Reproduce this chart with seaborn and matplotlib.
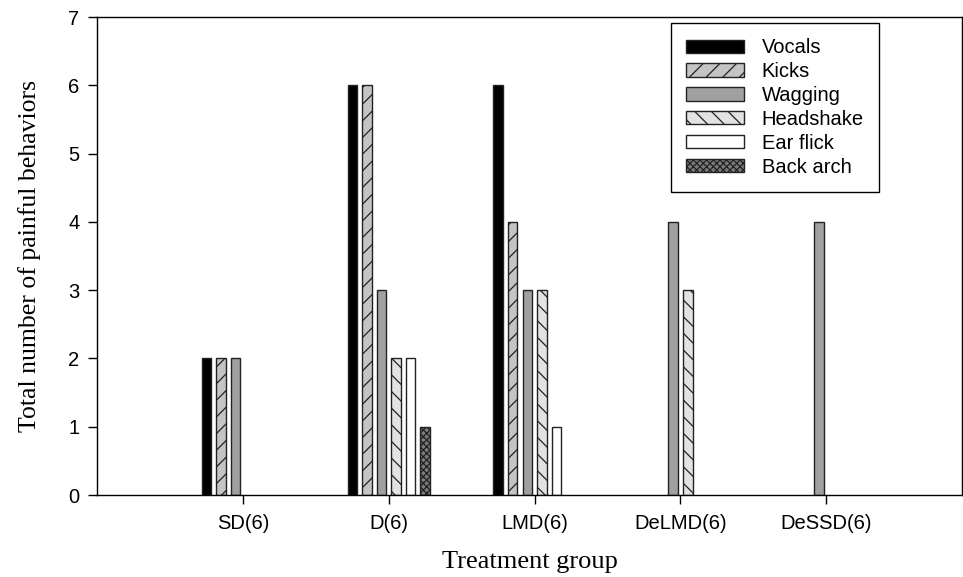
import pandas as pd
import matplotlib.pyplot as plt
import seaborn as sns
from matplotlib.patches import Patch

groups = ["SD(6)", "D(6)", "LMD(6)", "DeLMD(6)", "DeSSD(6)"]
behaviors = ["Vocals", "Kicks", "Wagging", "Headshake", "Ear flick", "Back arch"]

# counts per group, one list per behavior
vocals = [2, 6, 6, 0, 0]
kicks = [2, 6, 4, 0, 0]
wagging = [2, 3, 3, 4, 4]
headshake = [0, 2, 3, 3, 0]
ear_flick = [0, 2, 1, 0, 0]
back_arch = [0, 1, 0, 0, 0]

colors = ["black", "#c4c4c4", "#a0a0a0", "#e2e2e2", "white", "#7a7a7a"]
hatches = [None, "//", None, "\\\\", None, "xxxxx"]

series = [vocals, kicks, wagging, headshake, ear_flick, back_arch]
rows = []
for name, vals in zip(behaviors, series):
    for g, v in zip(groups, vals):
        rows.append({"group": g, "behavior": name, "count": v})
df = pd.DataFrame(rows)

sns.set_style("ticks")
plt.rcParams["font.family"] = ["Liberation Sans", "DejaVu Sans"]
plt.rcParams["text.color"] = "black"
plt.rcParams["axes.labelcolor"] = "black"
plt.rcParams["hatch.linewidth"] = 0.9
plt.rcParams["hatch.color"] = "#222222"

fig, ax = plt.subplots(figsize=(9.63, 5.77), dpi=100)
fig.subplots_adjust(left=0.1007, right=0.999, top=0.9705, bottom=0.142)

sns.barplot(data=df, x="group", y="count", hue="behavior", order=groups,
            hue_order=behaviors, palette=dict(zip(behaviors, colors)),
            width=0.6, gap=0.35, edgecolor="#222222", linewidth=1.0,
            legend=False, ax=ax)

# hatch the patterned series, hide the empty (zero) bars
for cont, h in zip(ax.containers, hatches):
    for bar in cont:
        if h:
            bar.set_hatch(h)
        if bar.get_height() == 0:
            bar.set_visible(False)

ax.set_xlim(-1, 4.93)
ax.set_ylim(0, 7)
ax.set_yticks(range(0, 8))
for s in ax.spines.values():
    s.set_visible(True)
    s.set_linewidth(1.0)
    s.set_color("black")
ax.tick_params(axis="both", direction="out", length=6.5, width=1, labelsize=14.5,
               colors="black", labelcolor="black")
ax.tick_params(axis="y", pad=6)
ax.tick_params(axis="x", pad=7)

ax.set_xlabel("Treatment group", family=["Liberation Serif"], fontsize=19, labelpad=13, color="black")
ax.set_ylabel("Total number of painful behaviors", family=["Liberation Serif"], fontsize=18.5,
              labelpad=20, color="black")

handles = [Patch(facecolor=c, edgecolor="#222222", hatch=h, linewidth=1.0)
           for c, h in zip(colors, hatches)]
leg = ax.legend(handles, behaviors, loc="upper right", bbox_to_anchor=(0.904, 0.987),
                borderaxespad=0, fontsize=14.5, handlelength=2.85, handleheight=0.65,
                labelspacing=0.24, handletextpad=0.9, borderpad=0.75,
                fancybox=False, framealpha=1)
leg.get_frame().set_edgecolor("black")
leg.get_frame().set_linewidth(1.0)
for t in leg.get_texts():
    t.set_color("black")

plt.savefig("out.png", dpi=100)
